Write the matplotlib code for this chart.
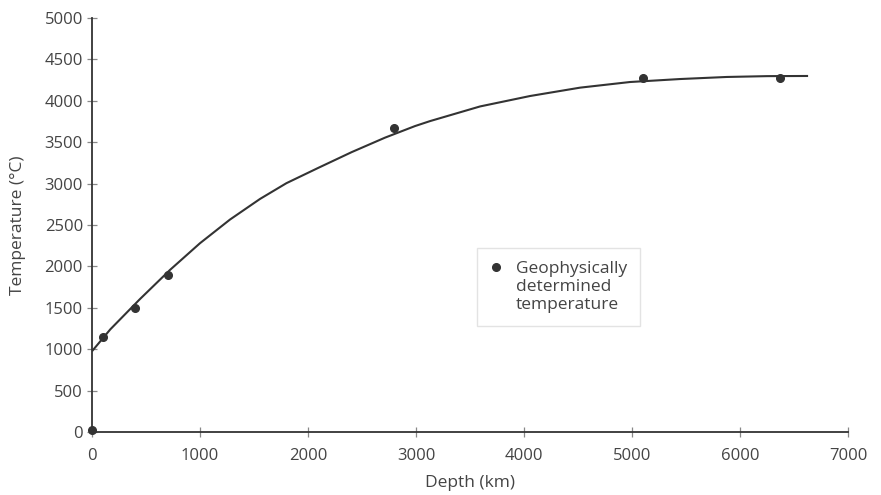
import matplotlib
matplotlib.use("Agg")
import matplotlib.pyplot as plt

# Geophysically determined temperatures (points)
depth_pts = [0, 100, 400, 700, 2800, 5100, 6370]
temp_pts = [20, 1150, 1500, 1900, 3670, 4280, 4270]

# Curve
curve_depth = [0, 170, 444, 722, 1000, 1278, 1556, 1800, 2095, 2404, 2713,
               2991, 3130, 3593, 4056, 4519, 4981, 5444, 5877, 6250, 6630]
curve_temp = [975, 1240, 1605, 1957, 2280, 2566, 2815, 3005, 3190, 3380, 3555,
              3695, 3755, 3932, 4058, 4159, 4227, 4263, 4288, 4298, 4300]

x_ticks = [0, 1000, 2000, 3000, 4000, 5000, 6000, 7000]
y_ticks = [0, 500, 1000, 1500, 2000, 2500, 3000, 3500, 4000, 4500, 5000]

plt.rcParams['font.family'] = ['Open Sans', 'DejaVu Sans']

fig = plt.figure(figsize=(8.81, 4.95), dpi=100)
ax = fig.add_axes([0.1044, 0.1273, 0.8582, 0.8363])

ax.plot(curve_depth, curve_temp, color='#333333', lw=1.5,
        solid_joinstyle='round', solid_capstyle='butt')
ax.plot(depth_pts, temp_pts, 'o', color='#333333', ms=5.5, ls='none',
        clip_on=False, zorder=5, label='Geophysically\ndetermined\ntemperature')

ax.set_xlim(0, 7000)
ax.set_ylim(0, 5000)
ax.set_xticks(x_ticks)
ax.set_yticks(y_ticks)
ax.spines['top'].set_visible(False)
ax.spines['right'].set_visible(False)
for s in ('left', 'bottom'):
    ax.spines[s].set_color('#333333')
    ax.spines[s].set_linewidth(1.3)
ax.tick_params(direction='inout', length=7, width=0.9, colors='#888888',
               labelcolor='#444444', labelsize=12)
ax.tick_params(axis='x', pad=8)
ax.tick_params(axis='y', pad=3)

ax.set_xlabel('Depth (km)', fontsize=12.5, color='#444444', labelpad=8)
ax.set_ylabel('Temperature (°C)', fontsize=12.5, color='#444444', labelpad=13)

leg = ax.legend(loc='upper left', bbox_to_anchor=(0.503, 0.458), frameon=True,
                fancybox=False, edgecolor='#dddddd', fontsize=12.5,
                handlelength=0.6, handletextpad=0.85, borderpad=0.75,
                borderaxespad=0.3, labelcolor='#444444', labelspacing=0.3)
leg.get_frame().set_linewidth(1.0)
for col in leg._legend_handle_box.get_children():
    for item in col.get_children():
        item.align = 'top'

fig.savefig('out.png', dpi=100)
